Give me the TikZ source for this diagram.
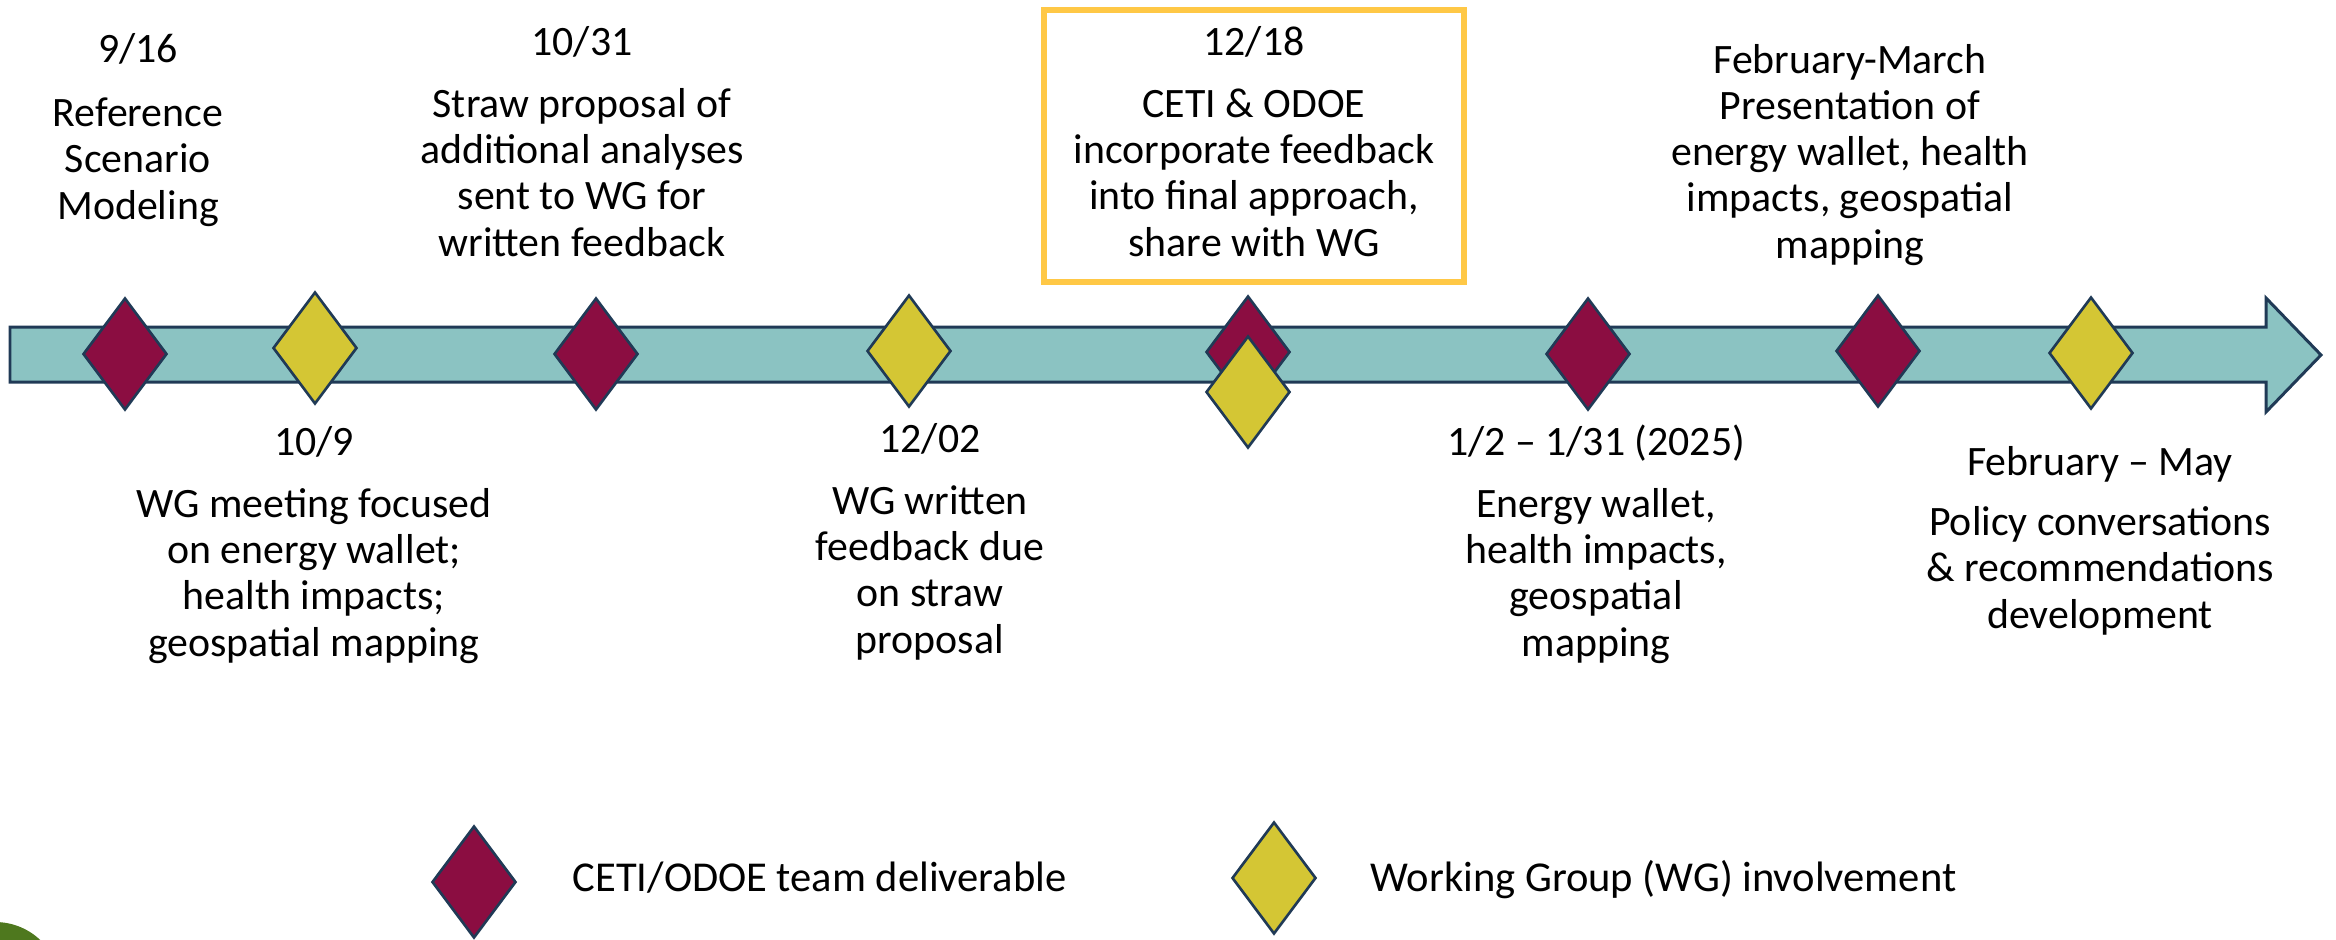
\documentclass[tikz,border=0pt]{standalone}
\usepackage{fontspec}
\setmainfont{Carlito}
\usetikzlibrary{shapes.geometric, positioning}

\definecolor{deliv}{RGB}{139,13,65}
\definecolor{wgyel}{RGB}{212,198,52}
\definecolor{shaft}{RGB}{139,195,194}
\definecolor{edge}{RGB}{32,58,86}
\definecolor{gold}{RGB}{255,200,70}
\definecolor{leaf}{RGB}{78,120,30}

\begin{document}
\begin{tikzpicture}[x=0.01cm, y=-0.01cm, line join=miter,
  gem/.style={diamond, draw=edge, line width=0.75pt, inner sep=0pt,
              minimum width=0.84cm, minimum height=1.12cm},
  team/.style={gem, fill=deliv},
  wg/.style={gem, fill=wgyel},
  txt/.style={align=center, inner sep=0pt, anchor=base,
              font=\fontsize{11.9}{13.1}\selectfont}]

  \useasboundingbox (0,0) rectangle (2336,939);

  %% ---- corner leaf ----
  \fill[leaf] (-5,988) circle (66);

  %% ---- timeline arrow ----
  \draw[edge, fill=shaft, line width=0.85pt]
    (10,327) -- (2266,327) -- (2266,298) -- (2321,355)
    -- (2266,412) -- (2266,382) -- (10,382) -- cycle;

  %% ---- milestones ----
  \node[team] (m916)  at (125,354)  {};
  \node[wg]   (w109)  at (315,348)  {};
  \node[team] (m1031) at (596,354)  {};
  \node[wg]   (w1202) at (909,351)  {};
  \node[team] (m1218) at (1248,352) {};
  \node[wg]   (w1218) at (1248,392) {};
  \node[team] (mjan)  at (1588,354) {};
  \node[team] (mfeb)  at (1878,351) {};
  \node[wg]   (wfeb)  at (2091,353) {};

  %% ---- labels above (anchored on the last baseline) ----
  \node[txt] (t916) at (138,62) {9/16};
  \node[txt] at (138,219) {Reference\\Scenario\\Modeling};
  \node[txt] (t1031) at (582,55) {10/31};
  \node[txt] at (582,256)
    {Straw proposal of\\additional analyses\\sent to WG for\\written feedback};
  \node[txt] (t1218) at (1254,55) {12/18};
  \node[txt] at (1254,256)
    {CETI \& ODOE\\incorporate feedback\\into final approach,\\share with WG};
  \draw[gold, line width=1.7pt] (1044,10) rectangle (1464,282);
  \node[txt] (tfm) at (1850,258)
    {February-March\\Presentation of\\energy wallet, health\\impacts, geospatial\\mapping};

  %% ---- labels below ----
  \node[txt] (t109) at (314,455) {10/9};
  \node[txt] at (314,656)
    {WG meeting focused\\on energy wallet;\\health impacts;\\geospatial mapping};
  \node[txt] (t1202) at (930,452) {12/02};
  \node[txt] at (930,653) {WG written\\feedback due\\on straw\\proposal};
  \node[txt] (tjan) at (1596,455) {1/2 -- 1/31 (2025)};
  \node[txt] at (1596,656)
    {Energy wallet,\\health impacts,\\geospatial\\mapping};
  \node[txt] (tfmay) at (2100,475) {February -- May};
  \node[txt] at (2100,628)
    {Policy conversations\\\& recommendations\\development};

  %% ---- legend ----
  \node[team] (keyteam) at (474,882) {};
  \node[txt, anchor=base west, font=\fontsize{12.1}{13.1}\selectfont]
    at (572,891) {CETI/ODOE team deliverable};
  \node[wg] (keywg) at (1274,878) {};
  \node[txt, anchor=base west, font=\fontsize{12.1}{13.1}\selectfont]
    at (1370,891) {Working Group (WG) involvement};

\end{tikzpicture}
\end{document}
